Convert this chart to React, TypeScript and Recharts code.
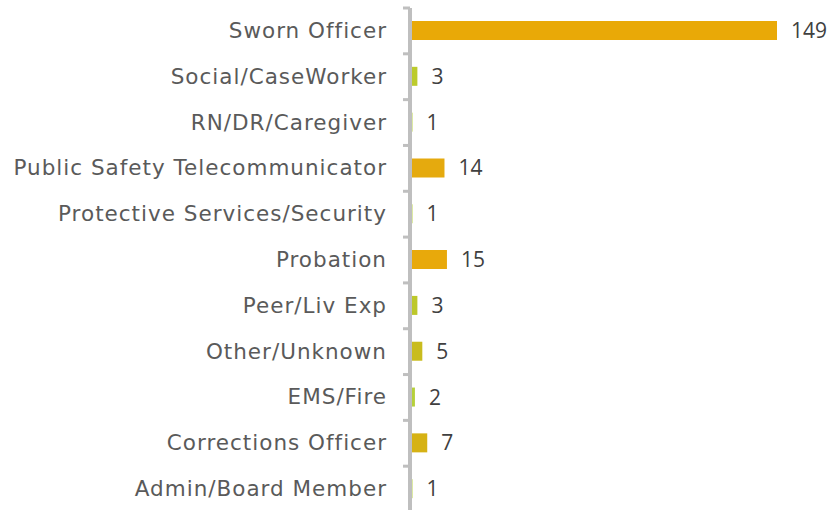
import React from 'react';
import { BarChart, Bar, XAxis, YAxis, Cell, LabelList } from 'recharts';

const categories = [
  'Sworn Officer',
  'Social/CaseWorker',
  'RN/DR/Caregiver',
  'Public Safety Telecommunicator',
  'Protective Services/Security',
  'Probation',
  'Peer/Liv Exp',
  'Other/Unknown',
  'EMS/Fire',
  'Corrections Officer',
  'Admin/Board Member',
];
const counts = [149, 3, 1, 14, 1, 15, 3, 5, 2, 7, 1];
const barColors = [
  '#E9A907', '#BCCB2C', '#B6D13C', '#E5AA0E', '#B6D13C', '#E8A90B',
  '#BDC82A', '#C9BC1E', '#B6D03A', '#D6B214', '#B6D13C',
];

const data = categories.map((name, i) => ({ name, count: counts[i] }));

const AXIS_X = 410;
const BAND = 504 / categories.length;

function CategoryTick(props: any) {
  const { x, y, payload, index } = props;
  const half = BAND / 2;
  return (
    <g>
      <line x1={AXIS_X - 7} x2={AXIS_X} y1={y - half} y2={y - half} stroke="#BFBFBF" strokeWidth={3} />
      {index === categories.length - 1 && (
        <line x1={AXIS_X - 7} x2={AXIS_X} y1={y + half} y2={y + half} stroke="#BFBFBF" strokeWidth={3} />
      )}
      <text
        x={x}
        y={y}
        dy={7}
        textAnchor="end"
        fill="#5A5A5A"
        fontSize={21.5}
        letterSpacing={1}
        fontFamily="'DejaVu Sans', sans-serif"
      >
        {payload.value}
      </text>
    </g>
  );
}

export default function App() {
  return (
    <div style={{ position: 'absolute', left: 0, top: 0, width: 828, height: 510, overflow: 'hidden', background: '#fff' }}>
      <BarChart
        width={828}
        height={520}
        data={data}
        layout="vertical"
        margin={{ top: 8, right: 51, bottom: 8, left: 0 }}
        barSize={19}
      >
        <XAxis type="number" domain={[0, 149]} hide />
        <YAxis
          type="category"
          dataKey="name"
          width={410}
          axisLine={{ stroke: '#BFBFBF', strokeWidth: 4 }}
          tickLine={false}
          tickSize={0}
          tickMargin={23}
          interval={0}
          tick={<CategoryTick />}
        />
        <Bar dataKey="count" isAnimationActive={false}>
          {data.map((_, i) => (
            <Cell key={`cell-${i}`} fill={barColors[i]} />
          ))}
          <LabelList
            dataKey="count"
            position="right"
            offset={14}
            fill="#404040"
            fontSize={21}
            fontFamily="'Open Sans', sans-serif"
          />
        </Bar>
      </BarChart>
    </div>
  );
}
